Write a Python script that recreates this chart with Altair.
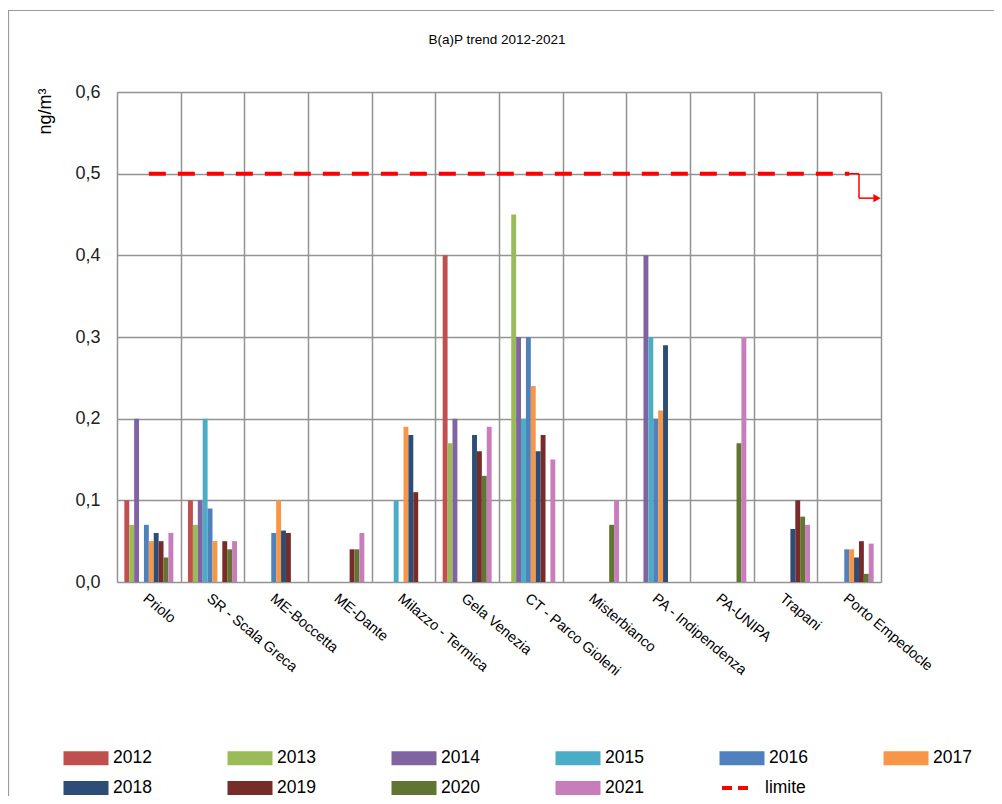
import altair as alt
import pandas as pd

stations = ["Priolo", "SR - Scala Greca", "ME-Boccetta", "ME-Dante", "Milazzo - Termica",
            "Gela Venezia", "CT - Parco Gioleni", "Misterbianco", "PA - Indipendenza",
            "PA-UNIPA", "Trapani", "Porto Empedocle"]
years = ["2012", "2013", "2014", "2015", "2016", "2017", "2018", "2019", "2020", "2021"]
colors = ["#C0504D", "#9BBB59", "#8064A2", "#4BACC6", "#4F81BD", "#F79646",
          "#2C4D75", "#772C2A", "#5F7530", "#C77DBB"]
title_text = "B(a)P trend 2012-2021"

N = None
v2012 = [0.10, 0.10, N, N, N, 0.40, N, N, N, N, N, N]
v2013 = [0.07, 0.07, N, N, N, 0.17, 0.45, N, N, N, N, N]
v2014 = [0.20, 0.10, N, N, N, 0.20, 0.30, N, 0.40, N, N, N]
v2015 = [N, 0.20, N, N, 0.10, N, 0.20, N, 0.30, N, N, N]
v2016 = [0.07, 0.09, 0.06, N, N, N, 0.30, N, 0.20, N, N, 0.04]
v2017 = [0.05, 0.05, 0.10, N, 0.19, N, 0.24, N, 0.21, N, N, 0.04]
v2018 = [0.06, N, 0.063, N, 0.18, 0.18, 0.16, N, 0.29, N, 0.065, 0.03]
v2019 = [0.05, 0.05, 0.06, 0.04, 0.11, 0.16, 0.18, N, N, N, 0.10, 0.05]
v2020 = [0.03, 0.04, N, 0.04, N, 0.13, N, 0.07, N, 0.17, 0.08, 0.01]
v2021 = [0.06, 0.05, N, 0.06, N, 0.19, 0.15, 0.10, N, 0.30, 0.07, 0.047]
series = [v2012, v2013, v2014, v2015, v2016, v2017, v2018, v2019, v2020, v2021]

limite_value = 1.0          # right axis (ng/m3)
arrow_y = [1.0, 0.94]       # annotation arrow levels on the right axis

rows = []
for yr, vals in zip(years, series):
    for st, v in zip(stations, vals):
        if v is not None:
            rows.append({"stazione": st, "anno": yr, "valore": v})
bars_df = pd.DataFrame(rows)
lim_df = pd.DataFrame({"stazione": stations, "lim": [limite_value] * len(stations), "serie": ["limite"] * len(stations)})
arrow_df = pd.DataFrame({"ya": [arrow_y[0]], "yb": [arrow_y[1]]})

# offset domain with one empty slot at each side to reproduce Excel's gap width
offset_domain = ["_l"] + years + ["_r"]

GRID = "#939393"
FONT = "Liberation Sans"
W, H = 764, 490

x_enc = alt.X("stazione:N", sort=stations,
              scale=alt.Scale(domain=stations, paddingInner=0, paddingOuter=0),
              axis=alt.Axis(title=None, labelAngle=40, labelFontSize=14.5, labelColor="#000",
                            labelPadding=9, ticks=False, domain=False, grid=True,
                            labelAlign="left", labelBaseline="top",
                            gridColor=GRID, gridWidth=1.5, tickBand="extent", labelFont=FONT))

frame_df = pd.DataFrame({"t": [title_text]})
border = alt.Chart(frame_df).mark_rect(
    fillOpacity=0, stroke="#9a9a9a", strokeWidth=1.2
).encode(x=alt.value(-108.5), x2=alt.value(1000), y=alt.value(-81.5), y2=alt.value(900))

title = alt.Chart(frame_df).mark_text(
    fontSize=13.5, font=FONT, color="#000", align="center", baseline="middle"
).encode(x=alt.value(W / 2 - 2), y=alt.value(-52), text="t:N")

bars = alt.Chart(bars_df).mark_bar().encode(
    x=x_enc,
    xOffset=alt.XOffset("anno:N", scale=alt.Scale(domain=offset_domain, paddingInner=0, paddingOuter=0.5)),
    y=alt.Y("valore:Q", scale=alt.Scale(domain=[0, 0.6]),
            axis=alt.Axis(title="ng/m³", values=[0, 0.1, 0.2, 0.3, 0.4, 0.5, 0.6],
                          labelExpr="replace(format(datum.value, '.1f'), '.', ',')",
                          labelFontSize=18, labelColor="#222", labelPadding=17,
                          ticks=False, domain=False, grid=True, gridColor=GRID, gridWidth=1.5,
                          titleFontSize=18, titleFontWeight="normal", titleColor="#000",
                          titleX=-63, titleY=-4, titleAlign="right", titleAngle=270,
                          labelFont=FONT, titleFont=FONT)),
    color=alt.Color("anno:N", scale=alt.Scale(domain=years, range=colors),
                    legend=alt.Legend(title=None, orient="none", legendX=-45, legendY=652,
                                      direction="horizontal", columns=6,
                                      symbolType="M-1.607,-0.5H1.607V0.5H-1.607Z",
                                      symbolSize=784, symbolStrokeWidth=0, symbolOpacity=1,
                                      labelFontSize=17.5, labelColor="#000", labelOffset=13,
                                      columnPadding=75, rowPadding=7, padding=0,
                                      labelFont=FONT)),
)

y_right = alt.Y("lim:Q", scale=alt.Scale(domain=[0, 1.2]),
                axis=alt.Axis(orient="right", title=None,
                              values=[0, 0.2, 0.4, 0.6, 0.8, 1.0, 1.2],
                              labelExpr="replace(format(datum.value, '~g'), '.', ',')",
                              labelFontSize=18, labelColor="#222", labelPadding=13,
                              ticks=True, tickSize=7, tickColor=GRID, tickWidth=1.5,
                              domain=False, grid=False, labelFont=FONT))

line = alt.Chart(lim_df).mark_line(strokeWidth=4, strokeDash=[17, 12]).encode(
    x=alt.X("stazione:N", sort=stations),
    y=y_right,
    color=alt.Color("serie:N", scale=alt.Scale(domain=["limite"], range=["#FF0000"]),
                    legend=alt.Legend(title=None, orient="none", legendX=603, legendY=679,
                                      symbolType="stroke", symbolSize=900, symbolStrokeWidth=4,
                                      symbolDash=[10, 6], labelFontSize=17.5, labelColor="#000",
                                      labelOffset=11, padding=0, labelFont=FONT)),
)

yr2 = alt.Y("ya:Q", scale=alt.Scale(domain=[0, 1.2]), axis=None)
a1 = alt.Chart(arrow_df).mark_rule(color="#FF0000", strokeWidth=1.5).encode(
    x=alt.value(732), x2=alt.value(742), y=yr2)
a2 = alt.Chart(arrow_df).mark_rule(color="#FF0000", strokeWidth=1.5).encode(
    x=alt.value(742), y=yr2, y2=alt.Y2("yb:Q"))
a3 = alt.Chart(arrow_df).mark_rule(color="#FF0000", strokeWidth=1.5).encode(
    x=alt.value(742), x2=alt.value(758), y=alt.Y("yb:Q", scale=alt.Scale(domain=[0, 1.2]), axis=None))
a4 = alt.Chart(arrow_df).mark_point(shape="triangle-right", filled=True, color="#FF0000",
                                    size=70, opacity=1).encode(
    x=alt.value(760), y=alt.Y("yb:Q", scale=alt.Scale(domain=[0, 1.2]), axis=None))

right = alt.layer(line, a1, a2, a3, a4)

chart = alt.layer(border, title, bars, right).resolve_scale(
    y="independent", color="independent"
).properties(
    width=W, height=H,
    autosize=alt.AutoSizeParams(type="none"),
    padding={"left": 109, "top": 84, "right": 113, "bottom": 214},
).configure_view(stroke=GRID, strokeWidth=1.5).configure(background="white")

chart.save("out.html", embed_options={"renderer": "svg", "actions": False})
